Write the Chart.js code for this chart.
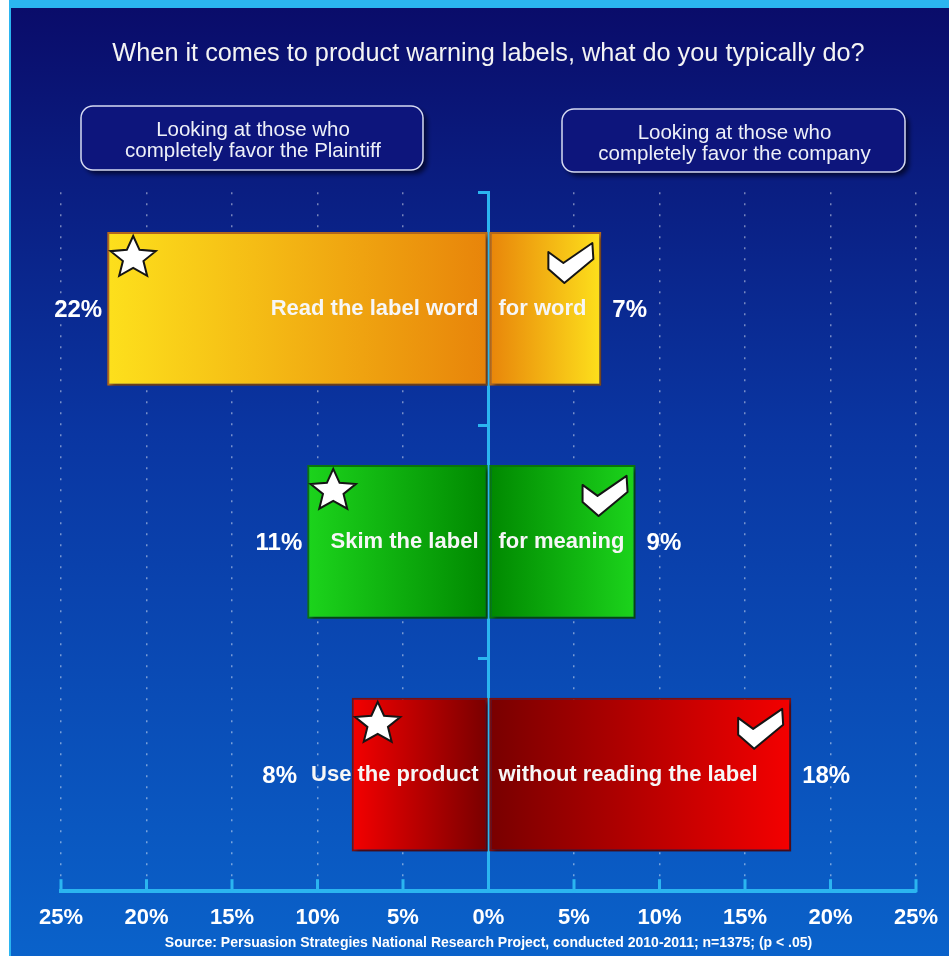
<!DOCTYPE html>
<html>
<head>
<meta charset="utf-8">
<script src="https://cdn.jsdelivr.net/npm/chart.js@4.4.1/dist/chart.umd.min.js"></script>
<style>
  body { margin: 0; background: #fff; }
  canvas { display: block; }
</style>
</head>
<body>
<canvas id="chart" width="949" height="956"></canvas>
<script>
const categories = ['Read the label word for word', 'Skim the label for meaning', 'Use the product without reading the label'];
const leftText = ['Read the label word', 'Skim the label', 'Use the product'];
const rightText = ['for word', 'for meaning', 'without reading the label'];
// bar lengths as drawn; labels show them rounded
const plaintiffValues = [22.3, 10.6, 8.0];
const companyValues = [6.6, 8.6, 17.7];
const tickMin = -25;
const tickMax = 25;
const tickStep = 5;
const boxTexts = [
  ['Looking at those who', 'completely favor the Plaintiff'],
  ['Looking at those who', 'completely favor the company']
];
const sourceText = 'Source: Persuasion Strategies National Research Project, conducted 2010-2011; n=1375; (p < .05)';

const barOuter = ['#fde01c', '#1cd41c', '#f40000'];
const barInner = ['#e8840a', '#008800', '#780000'];
const barEdge = ['#b5681a', '#0b760b', '#7a1010'];
const axisBlue = '#2bb5f0';
const FONT = "'Liberation Sans', Arial, sans-serif";

function barGradient(ctx) {
  const chart = ctx.chart;
  const i = ctx.dataIndex;
  if (!chart.chartArea || ctx.type !== 'data') return barOuter[i];
  const xs = chart.scales.x;
  const x0 = xs.getPixelForValue(0);
  const x1 = xs.getPixelForValue(ctx.raw);
  const g = chart.ctx.createLinearGradient(x1, 0, x0, 0);
  g.addColorStop(0, barOuter[i]);
  g.addColorStop(1, barInner[i]);
  return g;
}

const background = {
  id: 'background',
  beforeDraw(chart) {
    const c = chart.ctx;
    const w = chart.width, h = chart.height;
    c.save();
    c.fillStyle = '#ffffff';
    c.fillRect(0, 0, w, h);
    c.fillStyle = axisBlue;
    c.fillRect(9, 0, w - 9, 8);
    c.fillRect(9, 0, 2, h);
    const g = c.createLinearGradient(0, 8, 0, h);
    g.addColorStop(0, '#0a0c6a');
    g.addColorStop(0.45, '#0a36a2');
    g.addColorStop(1, '#0a62ca');
    c.fillStyle = g;
    c.fillRect(11, 8, w - 11, h - 8);

    // header boxes
    const boxes = [[81, 106, 342, 64], [562, 109, 343, 63]];
    boxes.forEach((b, k) => {
      c.save();
      c.shadowColor = 'rgba(0,0,20,0.7)';
      c.shadowOffsetX = 4;
      c.shadowOffsetY = 4;
      c.shadowBlur = 5;
      c.beginPath();
      c.roundRect(b[0], b[1], b[2], b[3], 12);
      c.fillStyle = '#0d157c';
      c.fill();
      c.restore();
      c.beginPath();
      c.roundRect(b[0], b[1], b[2], b[3], 12);
      c.lineWidth = 1.5;
      c.strokeStyle = '#d5daf2';
      c.stroke();
      c.fillStyle = '#eef0f8';
      c.font = '20.5px ' + FONT;
      c.textAlign = 'center';
      c.textBaseline = 'middle';
      c.fillText(boxTexts[k][0], b[0] + b[2] / 2 + 1, b[1] + 24);
      c.fillText(boxTexts[k][1], b[0] + b[2] / 2 + 1, b[1] + 45);
    });
    c.restore();
  }
};

const barShadow = {
  id: 'barShadow',
  beforeDatasetsDraw(chart) {
    const c = chart.ctx;
    c.save();
    c.shadowColor = 'rgba(0,0,30,0.45)';
    c.shadowOffsetX = 3;
    c.shadowOffsetY = 3;
    c.shadowBlur = 4;
  },
  afterDatasetsDraw(chart) {
    chart.ctx.restore();
  }
};

function drawStar(c, cx, cy, ro, ri) {
  c.beginPath();
  for (let k = 0; k < 10; k++) {
    const r = k % 2 === 0 ? ro : ri;
    const a = -Math.PI / 2 + k * Math.PI / 5;
    const px = cx + 1.08 * r * Math.cos(a), py = cy + r * Math.sin(a);
    if (k === 0) c.moveTo(px, py); else c.lineTo(px, py);
  }
  c.closePath();
  c.fillStyle = '#ffffff';
  c.fill();
  c.lineWidth = 2;
  c.lineJoin = 'miter';
  c.strokeStyle = '#151515';
  c.stroke();
}

function drawCheck(c, ox, oy) {
  const pts = [[0, 9], [15, 20], [44, 0], [45, 16], [16, 40], [0, 26]];
  c.beginPath();
  pts.forEach((p, k) => {
    if (k === 0) c.moveTo(ox + p[0], oy + p[1]); else c.lineTo(ox + p[0], oy + p[1]);
  });
  c.closePath();
  c.fillStyle = '#ffffff';
  c.fill();
  c.lineWidth = 2;
  c.lineJoin = 'round';
  c.strokeStyle = '#151515';
  c.stroke();
}

const barDecor = {
  id: 'barDecor',
  afterDraw(chart) {
    const c = chart.ctx;
    const left = chart.getDatasetMeta(0).data;
    const right = chart.getDatasetMeta(1).data;
    const xs = chart.scales.x;
    const zero = xs.getPixelForValue(0);
    c.save();

    // upward tick marks on the x axis
    c.strokeStyle = axisBlue;
    c.lineWidth = 3;
    xs.ticks.forEach(t => {
      const px = xs.getPixelForValue(t.value);
      c.beginPath();
      c.moveTo(px, xs.top + 1);
      c.lineTo(px, xs.top - 12);
      c.stroke();
    });

    categories.forEach((cat, i) => {
      const lb = left[i], rb = right[i];
      const top = lb.y - lb.height / 2;
      drawStar(c, lb.x + 26, top + 26, 22, 10);
      drawCheck(c, rb.x - 53, top + 11);

      c.fillStyle = '#f6f6f6';
      c.font = 'bold 22px ' + FONT;
      c.textBaseline = 'middle';
      c.textAlign = 'right';
      c.fillText(leftText[i], zero - 10, lb.y);
      const tw = c.measureText(leftText[i]).width;
      c.textAlign = 'left';
      c.fillText(rightText[i], zero + 10, rb.y);
      const rw = c.measureText(rightText[i]).width;

      c.fillStyle = '#ffffff';
      c.font = 'bold 24px ' + FONT;
      c.textAlign = 'right';
      const lx = Math.min(lb.x - 5, zero - 10 - tw - 14);
      c.fillText(Math.round(plaintiffValues[i]) + '%', lx, lb.y + 2);
      c.textAlign = 'left';
      const rx = Math.max(rb.x + 11, zero + 10 + rw + 14);
      c.fillText(Math.round(companyValues[i]) + '%', rx, rb.y + 2);
    });
    c.restore();
  }
};

new Chart(document.getElementById('chart'), {
  type: 'bar',
  data: {
    labels: categories,
    datasets: [
      {
        label: 'Completely favor the Plaintiff',
        data: plaintiffValues.map(v => -v),
        backgroundColor: barGradient,
        borderColor: ctx => barEdge[ctx.dataIndex],
        borderWidth: 2,
        borderSkipped: false
      },
      {
        label: 'Completely favor the company',
        data: companyValues,
        backgroundColor: barGradient,
        borderColor: ctx => barEdge[ctx.dataIndex],
        borderWidth: 2,
        borderSkipped: false
      }
    ]
  },
  options: {
    indexAxis: 'y',
    responsive: false,
    animation: false,
    devicePixelRatio: 1,
    categoryPercentage: 1,
    barPercentage: 0.66,
    layout: { padding: { top: 9, left: 61, right: 33, bottom: 0 } },
    plugins: {
      legend: { display: false },
      tooltip: { enabled: false },
      title: {
        display: true,
        text: 'When it comes to product warning labels, what do you typically do?',
        color: '#f4f4f4',
        font: { family: FONT, size: 25.3, weight: 'normal' },
        padding: { top: 30, bottom: 123 }
      }
    },
    scales: {
      x: {
        stacked: true,
        min: tickMin,
        max: tickMax,
        grid: {
          color: 'rgba(255,255,255,0.45)', lineWidth: 1.5,
          drawTicks: true, tickLength: 6, tickColor: 'rgba(0,0,0,0)'
        },
        border: { color: axisBlue, width: 4, dash: [2, 9] },
        ticks: {
          stepSize: tickStep,
          color: '#ffffff',
          font: { family: FONT, size: 22, weight: 'bold', lineHeight: 1 },
          padding: 10,
          maxRotation: 0,
          autoSkip: false,
          callback: v => Math.abs(v) + '%'
        },
        title: {
          display: true,
          text: sourceText,
          color: '#ffffff',
          font: { family: FONT, size: 14, weight: 'bold' },
          padding: { top: -4, bottom: 4 }
        }
      },
      y: {
        stacked: true,
        position: { x: 0 },
        z: 1,
        grid: { drawOnChartArea: false, tickLength: 9, tickColor: axisBlue, tickWidth: 3, offset: true },
        border: { color: axisBlue, width: 3 },
        ticks: { display: false }
      }
    }
  },
  plugins: [background, barShadow, barDecor]
});
</script>
</body>
</html>
